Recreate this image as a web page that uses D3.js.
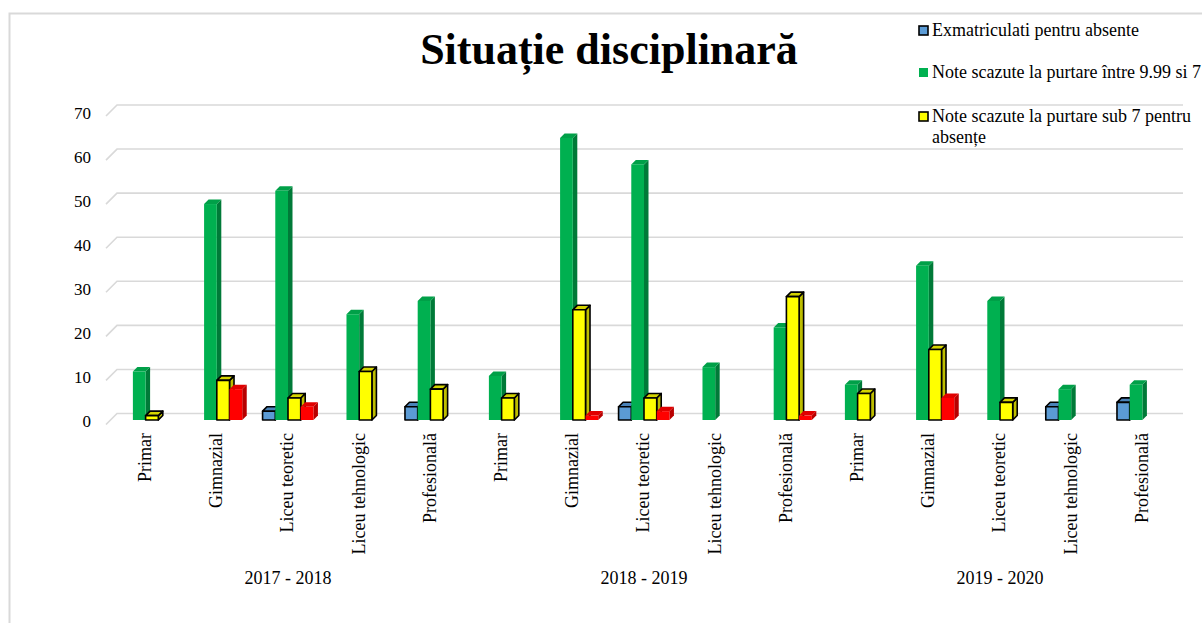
<!DOCTYPE html>
<html>
<head>
<meta charset="utf-8">
<script src="https://cdn.jsdelivr.net/npm/d3@7"></script>
<style>
body{margin:0;background:#fff;}
svg{display:block;font-family:"Liberation Serif","Times New Roman",serif;}
</style>
</head>
<body>
<div id="chart"></div>
<script>
// date
var years = ["2017 - 2018", "2018 - 2019", "2019 - 2020"];
var levels = ["Primar", "Gimnazial", "Liceu teoretic", "Liceu tehnologic", "Profesională"];
var exmatriculati = [0, 0, 2, 0, 3,  0, 0, 3, 0, 0,  0, 0, 0, 3, 4];
var noteIntre = [11, 49, 52, 24, 27,  10, 64, 58, 12, 21,  8, 35, 27, 7, 8];
var noteSub7 = [1, 9, 5, 11, 7,  5, 25, 5, 0, 28,  6, 16, 4, 0, 0];
var alteNote = [0, 7, 3, 0, 0,  0, 1, 2, 0, 1,  0, 5, 0, 0, 0];
var yTicks = [0, 10, 20, 30, 40, 50, 60, 70];
var legendNames = ["Exmatriculati pentru absente", "Note scazute la purtare între 9.99 si 7", "Note scazute la purtare sub 7 pentru absențe"];

var W = 1202, H = 623;
var series = [
    {key: "exm", values: exmatriculati, front: "#5b9bd5", side: "#3f6f9c", top: "#4a82b8", stroke: "#000"},
    {key: "intre", values: noteIntre, front: "#00b050", side: "#007a38", top: "#00a048", stroke: null},
    {key: "sub7", values: noteSub7, front: "#ffff00", side: "#bdbd00", top: "#d4d400", stroke: "#000"},
    {key: "alte", values: alteNote, front: "#ff0000", side: "#b80000", top: "#e00000", stroke: null}
];

var categories = [];
years.forEach(function(y, gi){
    levels.forEach(function(l){ categories.push({year: gi, name: l}); });
});

var svg = d3.select("#chart").append("svg").attr("width", W).attr("height", H);

// chenarul graficului
svg.append("path").attr("d", "M9.5," + H + "V13.5H" + W)
    .attr("fill", "none").attr("stroke", "#d9d9d9").attr("stroke-width", 2);

var x0 = d3.scaleBand().domain(d3.range(categories.length)).range([110, 1178]);
var x1 = d3.scaleBand().domain(series.map(s => s.key)).range([0, x0.bandwidth()]).paddingOuter(0.8);
var yBack = d3.scaleLinear().domain([0, 70]).range([413.5, 105]);
var frontShift = 6.5, depth = 4.5;
var wallDx = 11, wallDy = 11;
var yFront = v => yBack(v) + frontShift;

// linii de grila
var grid = svg.append("g").attr("stroke", "#d9d9d9").attr("stroke-width", 1.6).attr("fill", "none");
yTicks.forEach(function(t){
    var y = yBack(t);
    grid.append("path").attr("d", "M" + (117 - wallDx) + "," + (y + wallDy) + "L117," + y + "H1183");
});

svg.append("g").selectAll("text").data(yTicks).enter().append("text")
    .attr("x", 91).attr("y", d => yBack(d) + 8).attr("dy", "0.35em")
    .attr("text-anchor", "end").attr("font-size", "17px").attr("fill", "#000")
    .text(d => d);

// bare 3D
var bars = svg.append("g");
categories.forEach(function(c, i){
    series.forEach(function(s){
        var v = s.values[i];
        if(!v) return;
        var x = x0(i) + x1(s.key), w = x1.bandwidth();
        var yt = yFront(v), yb = yFront(0);
        var g = bars.append("g")
            .attr("stroke", s.stroke || "none").attr("stroke-width", s.stroke ? 1.6 : 0)
            .attr("stroke-linejoin", "round");
        g.append("path").attr("fill", s.side)
            .attr("d", "M" + (x + w) + "," + yt + "L" + (x + w + depth) + "," + (yt - depth) +
                "L" + (x + w + depth) + "," + (yb - depth) + "L" + (x + w) + "," + yb + "Z");
        g.append("path").attr("fill", s.top)
            .attr("d", "M" + x + "," + yt + "L" + (x + depth) + "," + (yt - depth) +
                "L" + (x + w + depth) + "," + (yt - depth) + "L" + (x + w) + "," + yt + "Z");
        g.append("rect").attr("fill", s.front)
            .attr("x", x).attr("y", yt).attr("width", w).attr("height", yb - yt);
    });
});

// etichete categorii
svg.append("g").selectAll("text").data(categories).enter().append("text")
    .attr("transform", (d, i) => "translate(" + (x0(i) + x0.bandwidth() / 2 - 1) + ",433) rotate(-90)")
    .attr("dy", "0.35em").attr("text-anchor", "end")
    .attr("font-size", "18px").attr("fill", "#000")
    .text(d => d.name);

svg.append("g").selectAll("text").data(years).enter().append("text")
    .attr("x", (d, gi) => (x0(gi * 5) + x0(gi * 5 + 4) + x0.bandwidth()) / 2)
    .attr("y", 584).attr("text-anchor", "middle")
    .attr("font-size", "18px").attr("fill", "#000")
    .text(d => d);

// titlu
svg.append("text").attr("x", 609).attr("y", 64).attr("text-anchor", "middle")
    .attr("font-size", "44px").attr("font-weight", "bold").attr("fill", "#000")
    .text("Situație disciplinară");

// legenda
var legend = svg.append("g").attr("font-size", "18px");
var legendY = [36, 78, 122];
legendNames.forEach(function(name, k){
    var s = series[k];
    legend.append("rect").attr("x", 919).attr("y", legendY[k] - 10).attr("width", 9).attr("height", 9)
        .attr("fill", s.front)
        .attr("stroke", s.stroke || "none").attr("stroke-width", 1.6);
    var t = legend.append("text").attr("x", 932).attr("y", legendY[k]).attr("fill", "#000");
    if(k === 2){
        t.append("tspan").attr("x", 932).text("Note scazute la purtare sub 7 pentru");
        t.append("tspan").attr("x", 932).attr("dy", 21).text("absențe");
    } else {
        t.text(name);
    }
});
</script>
</body>
</html>
